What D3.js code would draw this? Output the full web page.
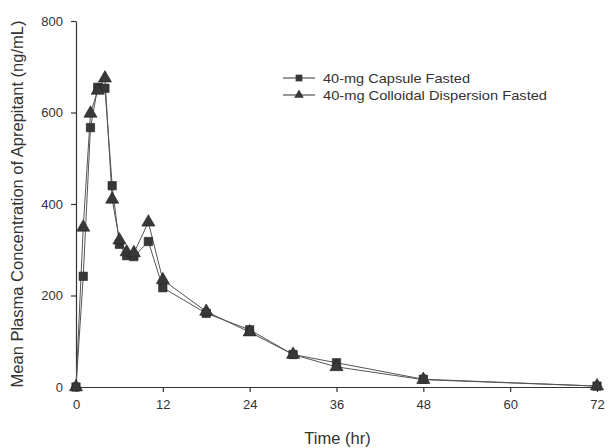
<!DOCTYPE html>
<html><head><meta charset="utf-8">
<script src="https://cdn.jsdelivr.net/npm/d3@7"></script>
<style>body{margin:0;background:#fff;} text{font-family:"Liberation Sans",Arial,sans-serif;fill:#333;}</style>
</head><body>
<svg id="c" width="610" height="448"></svg>
<script>
const times = [0,1,2,3,4,5,6,7,8,10,12,18,24,30,36,48,72];
const capsule = [0,242,567,655,653,440,312,287,285,318,217,161,125,71,53,17,2];
const colloidal = [0,349,598,648,675,410,321,295,293,360,234,165,120,71,44,16,2];
const seriesNames = ["40-mg Capsule Fasted","40-mg Colloidal Dispersion Fasted"];
const xTicks = [0,12,24,36,48,60,72];
const yTicks = [0,200,400,600,800];

const svg = d3.select("#c");
const x = d3.scaleLinear().domain([0,72]).range([76,597]);
const y = d3.scaleLinear().domain([0,800]).range([387,21]);
const axisColor = "#333";

const xa = svg.append("g").attr("transform","translate(0,387)")
  .call(d3.axisBottom(x).tickValues(xTicks).tickSize(5).tickSizeOuter(0).tickPadding(8));
const ya = svg.append("g").attr("transform","translate(76,0)")
  .call(d3.axisLeft(y).tickValues(yTicks).tickSize(5).tickSizeOuter(0).tickPadding(8));
[xa,ya].forEach(a=>{
  a.selectAll("path,line").attr("stroke",axisColor).attr("stroke-width",1.2);
  a.selectAll("text").attr("font-size",13).attr("fill","#333").style("font-family","Liberation Sans, Arial, sans-serif");
});

const data = [capsule, colloidal];
const shapes = [d3.symbolSquare, d3.symbolTriangle];
const sizes = [70, 75];
const line = d3.line().x((d,i)=>x(times[i])).y(d=>y(d));
data.forEach((vals,k)=>{
  svg.append("path").datum(vals).attr("d",line).attr("fill","none")
    .attr("stroke","#555").attr("stroke-width",1);
});
data.forEach((vals,k)=>{
  svg.append("g").selectAll("path").data(vals).join("path")
    .attr("transform",(d,i)=>`translate(${x(times[i])},${y(d)})`)
    .attr("d",d3.symbol().type(shapes[k]).size(sizes[k]))
    .attr("fill","#383838").attr("stroke","#222").attr("stroke-width",0.6);
});

// legend
const lg = svg.append("g");
const legendLens = [147, 224];
seriesNames.forEach((name,k)=>{
  const ly = 78 + k*17;
  lg.append("line").attr("x1",283).attr("x2",315).attr("y1",ly).attr("y2",ly).attr("stroke","#333").attr("stroke-width",1);
  lg.append("path").attr("transform",`translate(299,${ly})`).attr("d",d3.symbol().type(shapes[k]).size(k?40:45)).attr("fill","#383838");
  lg.append("text").attr("x",323).attr("y",ly).attr("dy","0.35em").attr("font-size",13.5)
    .attr("textLength",legendLens[k]).attr("lengthAdjust","spacingAndGlyphs").text(name);
});

svg.append("text").attr("x",337.5).attr("y",444).attr("text-anchor","middle").attr("font-size",16.5).text("Time (hr)");
svg.append("text").attr("transform","translate(23,204) rotate(-90)").attr("text-anchor","middle").attr("font-size",16.5).text("Mean Plasma Concentration of Aprepitant (ng/mL)");
</script>
</body></html>
